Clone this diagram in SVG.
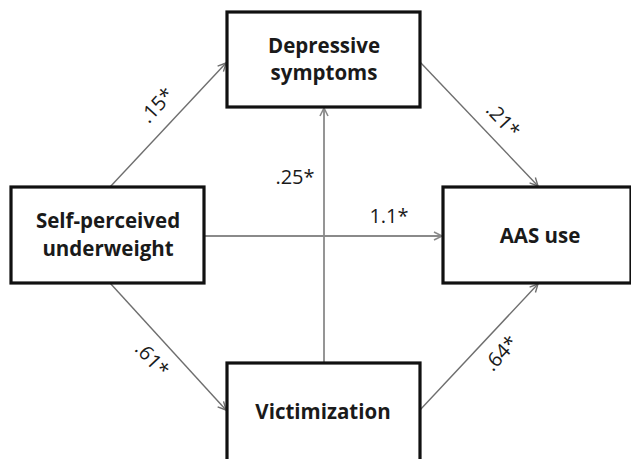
<svg xmlns="http://www.w3.org/2000/svg" width="631" height="459" viewBox="0 0 631 459">
<style>
.box{fill:#fff;stroke:#111;stroke-width:3.2}
.nt{font-family:"Open Sans","Noto Sans","DejaVu Sans",sans-serif;font-weight:bold;font-size:20.5px;fill:#1a1a1a;text-anchor:middle}
.lbl{font-family:"Open Sans","Noto Sans","DejaVu Sans",sans-serif;font-size:20px;fill:#1a1a1a;text-anchor:middle}
.edge{stroke:#6e6e6e;stroke-width:1.4;fill:none;marker-end:url(#arr)}
.edge2{stroke:#8a8a8a;stroke-width:1.8;fill:none;marker-end:url(#arr2)}
</style>
<defs>
<marker id="arr" markerUnits="userSpaceOnUse" markerWidth="12" markerHeight="12" refX="9" refY="5" orient="auto">
<path d="M1,1 L9,5 L1,9" fill="none" stroke="#6e6e6e" stroke-width="1.4"/>
</marker>
<marker id="arr2" markerUnits="userSpaceOnUse" markerWidth="12" markerHeight="12" refX="9" refY="5" orient="auto">
<path d="M1,1 L9,5 L1,9" fill="none" stroke="#8a8a8a" stroke-width="1.6"/>
</marker>
</defs>
<rect width="631" height="459" fill="#fff"/>
<g id="connectors">
<line class="edge" x1="110" y1="187" x2="226" y2="63"/>
<line class="edge" x1="420" y1="62" x2="538" y2="186"/>
<line class="edge2" x1="324" y1="363" x2="324" y2="108"/>
<line class="edge2" x1="205" y1="236" x2="442" y2="236"/>
<line class="edge" x1="110" y1="283" x2="226" y2="410"/>
<line class="edge" x1="420" y1="410" x2="538" y2="284"/>
<text class="lbl" transform="translate(162,110) rotate(-47)">.15*</text>
<text class="lbl" transform="translate(498,125) rotate(47)">.21*</text>
<text class="lbl" x="295" y="184">.25*</text>
<text class="lbl" x="389" y="223">1.1*</text>
<text class="lbl" transform="translate(147,364) rotate(47)">.61*</text>
<text class="lbl" transform="translate(506,358) rotate(-47)">.64*</text>
</g>
<g id="node-depressive">
<rect class="box" x="227" y="12" width="193" height="95"/>
<text class="nt" x="324" y="53">Depressive</text>
<text class="nt" x="324" y="80">symptoms</text>
</g>
<g id="node-self">
<rect class="box" x="11" y="187" width="193" height="96"/>
<text class="nt" x="108" y="228">Self-perceived</text>
<text class="nt" x="108" y="256">underweight</text>
</g>
<g id="node-aas">
<rect class="box" x="443" y="187" width="188" height="96"/>
<text class="nt" x="540" y="243">AAS use</text>
</g>
<g id="node-victimization">
<rect class="box" x="227" y="363" width="193" height="110"/>
<text class="nt" x="323" y="419">Victimization</text>
</g>
</svg>
